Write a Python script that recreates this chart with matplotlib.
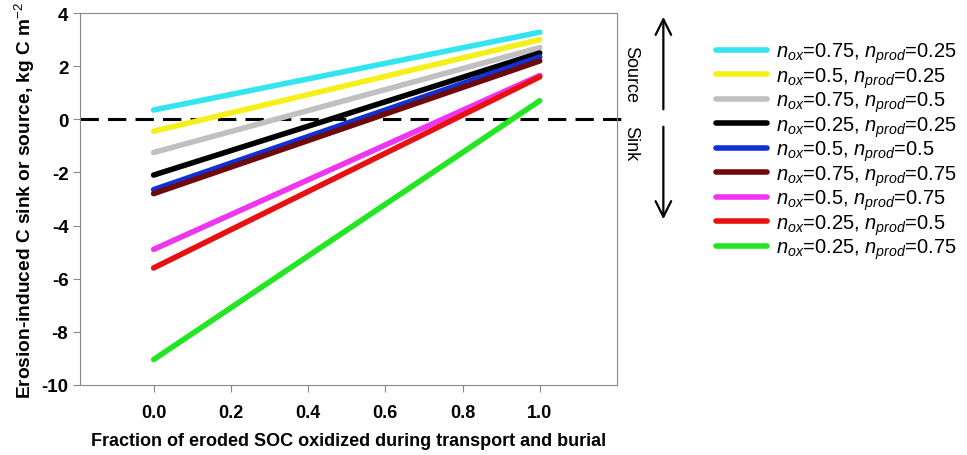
import matplotlib
matplotlib.use("Agg")
import matplotlib.pyplot as plt

plt.rcParams['font.family'] = ['Liberation Sans', 'DejaVu Sans']
plt.rcParams['mathtext.fontset'] = 'custom'
plt.rcParams['mathtext.rm'] = 'Liberation Sans'
plt.rcParams['mathtext.it'] = 'Liberation Sans:italic'
plt.rcParams['mathtext.bf'] = 'Liberation Sans:bold'

x_vals = [0.0, 1.0]
labels = [
    r"$n_{ox}$=0.75, $n_{prod}$=0.25",
    r"$n_{ox}$=0.5, $n_{prod}$=0.25",
    r"$n_{ox}$=0.75, $n_{prod}$=0.5",
    r"$n_{ox}$=0.25, $n_{prod}$=0.25",
    r"$n_{ox}$=0.5, $n_{prod}$=0.5",
    r"$n_{ox}$=0.75, $n_{prod}$=0.75",
    r"$n_{ox}$=0.5, $n_{prod}$=0.75",
    r"$n_{ox}$=0.25, $n_{prod}$=0.5",
    r"$n_{ox}$=0.25, $n_{prod}$=0.75",
]
start_vals = [0.35, -0.45, -1.25, -2.1, -2.65, -2.8, -4.9, -5.6, -9.05]
end_vals = [3.28, 3.0, 2.7, 2.5, 2.35, 2.2, 1.65, 1.6, 0.7]
colors = ['#33e5ee', '#f5ef1a', '#c0c0c0', '#000000', '#1030d8',
          '#6e0a0a', '#f035f0', '#e81010', '#22e622']
xticks = [0.0, 0.2, 0.4, 0.6, 0.8, 1.0]
yticks = [-10, -8, -6, -4, -2, 0, 2, 4]

fig = plt.figure(figsize=(9.67, 4.56), dpi=100)
ax = fig.add_axes([0.083, 0.154, 0.555, 0.815])

handles = []
for lab, s, e, c in zip(labels, start_vals, end_vals, colors):
    h, = ax.plot(x_vals, [s, e], color=c, lw=4, solid_capstyle='round', label=lab)
    handles.append(h)

ax.axhline(0, xmin=-0.0, xmax=1.025, color='black', lw=2.2, ls=(0, (6, 3)), clip_on=False, zorder=0)

ax.set_xlim(-0.19, 1.2)
ax.set_ylim(-10, 4)
ax.set_xticks(xticks)
ax.set_xticklabels([f"{t:.1f}" for t in xticks], fontweight='bold', fontsize=13)
ax.set_yticks(yticks)
ax.set_yticklabels([str(t) for t in yticks], fontweight='bold', fontsize=13.5)
for sp in ax.spines.values():
    sp.set_color('#888888')
ax.tick_params(color='#888888', length=5, direction='out')
ax.tick_params(axis='x', pad=9)

ax.set_xlabel("Fraction of eroded SOC oxidized during transport and burial",
              fontweight='bold', fontsize=13, labelpad=8)
ax.set_ylabel(r"Erosion-induced C sink or source, kg C m$^{-2}$",
              fontweight='bold', fontsize=13.8, labelpad=3)

# Source / Sink annotations
fig.text(0.652, 0.836, "Source", rotation=-90, ha='center', va='center', fontsize=13)
fig.text(0.652, 0.686, "Sink", rotation=-90, ha='center', va='center', fontsize=13)
fig.patches.append(matplotlib.patches.FancyArrowPatch((0.686, 0.752), (0.686, 0.967),
    transform=fig.transFigure, arrowstyle='->', mutation_scale=28, lw=1.6, color='black'))
fig.patches.append(matplotlib.patches.FancyArrowPatch((0.686, 0.726), (0.686, 0.511),
    transform=fig.transFigure, arrowstyle='->', mutation_scale=28, lw=1.6, color='black'))

leg = fig.legend(handles=handles, loc='upper left', bbox_to_anchor=(0.722, 0.948),
                 frameon=False, fontsize=14.5, handlelength=2.5, handletextpad=0.45,
                 labelspacing=0.0)

fig.savefig("out.png", dpi=100)
